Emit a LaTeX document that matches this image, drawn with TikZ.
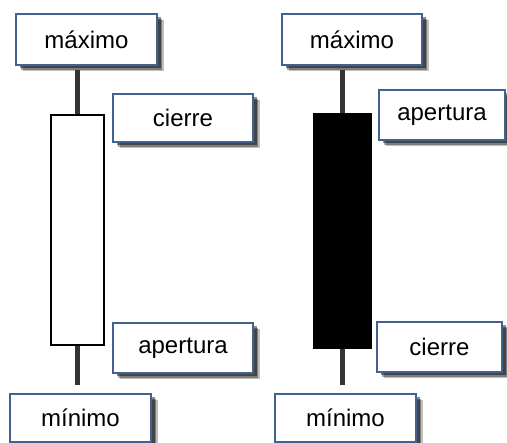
\documentclass[tikz,border=0pt]{standalone}
\usepackage{fontspec}
\setmainfont{Liberation Sans}
\usetikzlibrary{shadows}

\definecolor{boxblue}{RGB}{66,98,148}
\definecolor{wickgray}{RGB}{52,52,52}

\begin{document}
\begin{tikzpicture}[x=1pt,y=-1pt,
  label box/.style={draw=boxblue, line width=1.6pt, fill=white, inner sep=0pt,
    font=\fontsize{24}{28}\selectfont,
    general shadow={shadow xshift=6.5pt, shadow yshift=-6.5pt, fill=black, opacity=.25},
    general shadow={shadow xshift=5pt, shadow yshift=-5pt, fill=black, opacity=.35},
    general shadow={shadow xshift=3.5pt, shadow yshift=-3.5pt, fill=black, opacity=.45}},
  wick/.style={draw=wickgray, line width=4.5pt},
  body/.style={draw=black, line width=2.6pt, inner sep=0pt}]
\useasboundingbox (0,0) rectangle (507,443);

% vela alcista
\node[body, fill=white, minimum width=53pt, minimum height=230pt] (bodyL) at (77.5,230) {};
\node[label box, minimum width=141pt, minimum height=51pt] (maxL) at (86.5,39.5) {máximo};
\node[label box, minimum width=140pt, minimum height=48pt] (closeL) at (183,118) {cierre};
\node[label box, minimum width=140pt, minimum height=50pt] (openL) at (183,348) {apertura};
\node[label box, minimum width=141pt, minimum height=48pt] (minL) at (80.5,418) {mínimo};
\coordinate (highL) at (77.5,70);
\coordinate (lowL) at (77.5,385);
\draw[wick] (bodyL.north) -- (highL);
\draw[wick] (bodyL.south) -- (lowL);

% vela bajista
\node[body, fill=black, minimum width=57pt, minimum height=234pt] (bodyR) at (342.5,231) {};
\node[label box, minimum width=140pt, minimum height=51pt] (maxR) at (352,39.5) {máximo};
\node[label box, minimum width=126pt, minimum height=50pt] (openR) at (442,115) {apertura};
\node[label box, minimum width=125pt, minimum height=50pt] (closeR) at (439.5,347) {cierre};
\node[label box, minimum width=141pt, minimum height=48pt] (minR) at (345.5,418) {mínimo};
\coordinate (highR) at (342.5,70);
\coordinate (lowR) at (342.5,385);
\draw[wick] (bodyR.north) -- (highR);
\draw[wick] (bodyR.south) -- (lowR);
\end{tikzpicture}
\end{document}
